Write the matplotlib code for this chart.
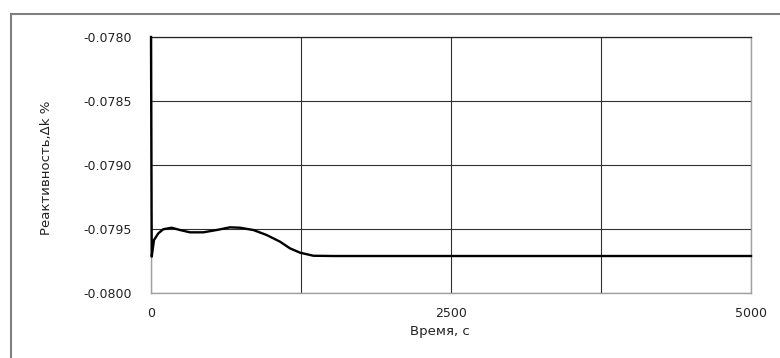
import numpy as np
import matplotlib.pyplot as plt
from matplotlib.lines import Line2D

# Реактивность во времени
t = np.array([0, 6, 25, 61, 102, 172, 242, 325, 436, 547, 658, 742, 853, 964,
              1075, 1158, 1242, 1353, 1519, 2500, 3750, 5000])
rho = np.array([-0.07800, -0.079716, -0.079586, -0.079534, -0.079502, -0.079490,
                -0.079508, -0.079526, -0.079526, -0.079508, -0.079487, -0.079490,
                -0.079508, -0.079547, -0.079599, -0.079651, -0.079685, -0.079709,
                -0.079711, -0.079711, -0.079711, -0.079711])

x_ticks = [0, 1250, 2500, 3750, 5000]
x_labels = ['0', '', '2500', '', '5000']
y_ticks = [-0.0800, -0.0795, -0.0790, -0.0785, -0.0780]
y_labels = ['-0.0800', '-0.0795', '-0.0790', '-0.0785', '-0.0780']

plt.rcParams['font.family'] = ['DejaVu Sans']

fig = plt.figure(figsize=(7.8, 3.58), dpi=100)
ax = fig.add_axes([151 / 780, 1 - 293 / 358, 600 / 780, 256 / 358])

# рамка вокруг диаграммы
fig.add_artist(Line2D([11 / 780, 11 / 780], [0, 1 - 14 / 358], transform=fig.transFigure,
                      color='#7f7f7f', lw=1.5))
fig.add_artist(Line2D([11 / 780, 1], [1 - 14 / 358, 1 - 14 / 358], transform=fig.transFigure,
                      color='#7f7f7f', lw=1.5))

ax.plot(t, rho, color='black', lw=1.7, zorder=3, clip_on=False)

ax.set_xlim(0, 5000)
ax.set_ylim(-0.0800, -0.0780)
ax.set_xticks(x_ticks)
ax.set_xticklabels(x_labels)
ax.set_yticks(y_ticks)
ax.set_yticklabels(y_labels)
ax.tick_params(length=0, labelsize=9, colors='#222222')
ax.tick_params(axis='y', pad=14)
ax.tick_params(axis='x', pad=10)

ax.grid(True, color='#303030', lw=0.8)
ax.set_axisbelow(True)
for side in ['left', 'bottom', 'right']:
    ax.spines[side].set_color('#a0a0a0')
    ax.spines[side].set_linewidth(1.0)
ax.spines['top'].set_color('#202020')
ax.spines['top'].set_linewidth(0.9)

ax.set_xlabel('Время, с', fontsize=9.5, color='#222222')
ax.set_ylabel('Реактивность,Δk %', fontsize=9.5, color='#222222')
ax.xaxis.set_label_coords(0.482, -0.125)
ax.yaxis.set_label_coords(-0.163, 0.49)

fig.savefig('out.png', dpi=100)
